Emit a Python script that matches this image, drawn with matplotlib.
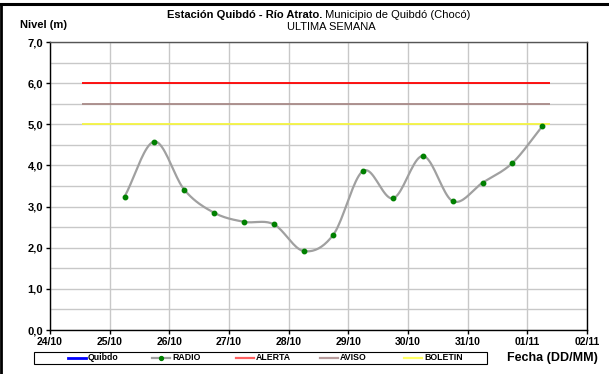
import numpy as np
import matplotlib
matplotlib.use("Agg")
import matplotlib.pyplot as plt
from matplotlib.lines import Line2D
from matplotlib.patches import Rectangle

plt.rcParams['font.family'] = ['Liberation Sans', 'DejaVu Sans']

# days counted from 24/10 00:00
day_labels = ['24/10', '25/10', '26/10', '27/10', '28/10', '29/10', '30/10', '31/10', '01/11', '02/11']
radio_days = [1.25, 1.75, 2.25, 2.75, 3.25, 3.75, 4.25, 4.75, 5.25, 5.75, 6.25, 6.75, 7.25, 7.75, 8.25]
radio_level = [3.24, 4.58, 3.41, 2.85, 2.63, 2.57, 1.92, 2.32, 3.87, 3.20, 4.23, 3.13, 3.58, 4.06, 4.95]

alerta = 6.0
aviso = 5.5
boletin = 5.0
umbral_ini, umbral_fin = 0.54, 8.375

legend_names = ['Quibdo', 'RADIO', 'ALERTA', 'AVISO', 'BOLETIN']
legend_colors = ['#0000ff', '#a0a0a0', '#ff6060', '#b89c9c', '#ffff60']


def catmull_rom(x, y, n=20):
    # smooth curve through the points, like the Excel "smoothed line"
    x = np.asarray(x, float)
    y = np.asarray(y, float)
    px = np.concatenate([[2 * x[0] - x[1]], x, [2 * x[-1] - x[-2]]])
    py = np.concatenate([[2 * y[0] - y[1]], y, [2 * y[-1] - y[-2]]])
    xs, ys = [], []
    t = np.linspace(0, 1, n, endpoint=False)
    for i in range(1, len(px) - 2):
        for p, out in ((px, xs), (py, ys)):
            p0, p1, p2, p3 = p[i - 1], p[i], p[i + 1], p[i + 2]
            out.append(0.5 * (2 * p1 + (-p0 + p2) * t + (2 * p0 - 5 * p1 + 4 * p2 - p3) * t ** 2
                              + (-p0 + 3 * p1 - 3 * p2 + p3) * t ** 3))
    xs.append([x[-1]])
    ys.append([y[-1]])
    return np.concatenate(xs), np.concatenate(ys)


W, H = 609, 374
fig = plt.figure(figsize=(W / 100, H / 100), dpi=100)
ax = fig.add_axes([50 / W, 44 / H, 537 / W, 288 / H])

ax.set_xlim(0, 9)
ax.set_ylim(0, 7)
ax.set_xticks(np.arange(10))
ax.set_xticklabels(day_labels, fontsize=7.5, fontweight='bold')
ax.set_yticks(np.arange(0, 8))
ax.yaxis.set_major_formatter(plt.FuncFormatter(lambda v, p: ('%.1f' % v).replace('.', ',')))
for lb in ax.get_yticklabels():
    lb.set_fontsize(8)
    lb.set_fontweight('bold')
ax.tick_params(axis='y', labelsize=8)
ax.set_yticks(np.arange(0, 7.01, 0.5), minor=True)
ax.tick_params(axis='y', which='minor', length=0)
ax.tick_params(length=3, width=1, pad=2)
ax.grid(True, which='both', color='#c8c8c8', lw=1)
ax.set_axisbelow(True)
for s in ax.spines.values():
    s.set_color('black')
    s.set_linewidth(1)
ax.spines['top'].set_color('#555555')

ax.hlines(alerta, umbral_ini, umbral_fin, color='#ff0000', lw=1.3, zorder=3)
ax.hlines(aviso, umbral_ini, umbral_fin, color='#a88a88', lw=1.3, zorder=3)
ax.hlines(boletin, umbral_ini, umbral_fin, color='#f5f542', lw=1.3, zorder=3)

sx, sy = catmull_rom(radio_days, radio_level)
ax.plot(sx, sy, color='#a0a0a0', lw=1.6, zorder=4)
ax.plot(radio_days, radio_level, ls='none', marker='o', ms=3.2, color='#008000', zorder=5)

# legend box drawn by hand, Excel style
fig.add_artist(Rectangle((34 / W, 10 / H), 453 / W, 12 / H, transform=fig.transFigure,
                         fill=False, edgecolor='black', lw=0.8))
for i, (name, col) in enumerate(zip(legend_names, legend_colors)):
    x0 = 68 + 84 * i
    yc = 1 - 358 / H
    fig.add_artist(Line2D([x0 / W, (x0 + 18) / W], [yc, yc], color=col, lw=1.6 if i != 0 else 2,
                          transform=fig.transFigure))
    if name == 'RADIO':
        fig.add_artist(Line2D([(x0 + 9) / W], [yc], marker='o', ms=2.8, color='#008000',
                              transform=fig.transFigure))
    fig.text((x0 + 20) / W, yc, name, ha='left', va='center', fontsize=6.3, fontweight='bold')

# title: bold part followed by normal part, centred over the plot
fig.canvas.draw()
r = fig.canvas.get_renderer()
ty = 1 - 15 / H
tb = fig.text(0, ty, 'Estación Quibdó - Río Atrato.', ha='left', va='center', fontsize=8, fontweight='bold')
tn = fig.text(0, ty, ' Municipio de Quibdó (Chocó)', ha='left', va='center', fontsize=8)
wb = tb.get_window_extent(r).width
wn = tn.get_window_extent(r).width
x_start = 319 - (wb + wn) / 2
tb.set_x(x_start / W)
tn.set_x((x_start + wb) / W)
fig.text(331 / W, 1 - 27 / H, 'ULTIMA SEMANA', ha='center', va='center', fontsize=8)
fig.text(20 / W, 1 - 25 / H, 'Nivel (m)', ha='left', va='center', fontsize=8, fontweight='bold')
fig.text(598 / W, 1 - 358 / H, 'Fecha (DD/MM)', ha='right', va='center', fontsize=9, fontweight='bold')

# frame on the left and top edges
fig.add_artist(Line2D([1 / W, 1 / W], [0, 1 - 4 / H], color='black', lw=2, transform=fig.transFigure))
fig.add_artist(Line2D([0, 1], [1 - 4 / H, 1 - 4 / H], color='black', lw=2.2, transform=fig.transFigure))

fig.savefig('out.png', dpi=100)
